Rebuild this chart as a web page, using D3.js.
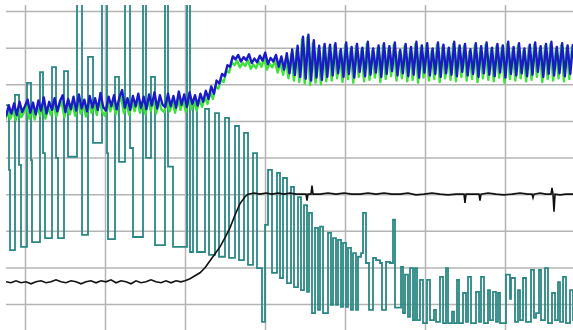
<!DOCTYPE html>
<html><head><meta charset="utf-8">
<script src="https://cdn.jsdelivr.net/npm/d3@7"></script>
<style>html,body{margin:0;padding:0;background:#fff;}svg{display:block;}</style>
</head><body>
<svg id="c" width="573" height="330"></svg>
<script>
// time in µs (800 µs / div), values in divisions
const xTicks = [0, 800, 1600, 2400, 3200, 4000, 4800];
const yTicks = [0, 1, 2, 3, 4, 5, 6, 7, 8];

// blue & green: uniformly sampled channels
const blueT0 = -190, greenT0 = -200, sampleDt = 27;
const blueV = [
5.12,5.42,5.20,5.48,5.16,5.52,5.24,5.40,5.58,5.22,
5.50,5.18,5.56,5.28,5.64,5.20,5.52,5.30,5.62,5.26,
5.54,5.70,5.24,5.60,5.32,5.66,5.28,5.72,5.34,5.58,
5.26,5.68,5.36,5.62,5.30,5.76,5.38,5.28,5.66,5.40,
5.70,5.32,5.64,5.84,5.36,5.62,5.30,5.68,5.40,5.74,
5.36,5.66,5.32,5.72,5.42,5.78,5.34,5.70,5.44,5.38,
5.74,5.40,5.68,5.36,5.80,5.44,5.72,5.38,5.78,5.46,
5.70,5.42,5.74,5.52,5.82,5.60,5.94,5.74,6.10,6.02,
6.28,6.22,6.52,6.48,6.76,6.68,6.80,6.62,6.74,6.66,
6.82,6.58,6.70,6.60,6.78,6.64,6.86,6.55,6.72,6.62,
6.80,6.48,6.76,6.40,6.85,6.30,6.95,6.25,7.05,6.20,
7.30,6.15,7.35,6.10,7.20,6.18,7.05,6.12,7.10,6.20,
7.08,6.24,7.12,6.30,6.96,6.20,7.14,6.28,7.02,6.18,
7.10,6.34,7.00,6.22,7.16,6.26,6.98,6.32,7.06,6.20,
7.12,6.28,7.04,6.36,7.14,6.24,6.94,6.30,7.10,6.22,
7.02,6.26,7.16,6.18,7.06,6.32,7.12,6.24,6.98,6.28,
7.14,6.20,7.08,6.30,7.00,6.26,7.16,6.22,7.06,6.34,
7.10,6.24,6.96,6.28,7.12,6.20,7.04,6.30,7.14,6.26,
7.00,6.22,7.10,6.32,7.06,6.18,7.16,6.28,7.02,6.24,
7.12,6.30,6.98,6.22,7.08,6.26,7.14,6.34,7.04,6.20,
7.10,6.28,7.16,6.24,7.02,6.30,7.12,6.22,7.06,6.28,7.10];
const greenV = [
5.00,5.24,5.06,5.30,5.02,5.36,5.10,5.24,5.40,5.06,
5.34,5.04,5.38,5.14,5.46,5.06,5.36,5.16,5.44,5.12,
5.38,5.52,5.10,5.44,5.18,5.48,5.14,5.54,5.20,5.42,
5.12,5.50,5.22,5.46,5.16,5.58,5.24,5.14,5.50,5.26,
5.54,5.18,5.48,5.66,5.22,5.46,5.16,5.52,5.26,5.58,
5.22,5.50,5.18,5.56,5.28,5.60,5.20,5.54,5.30,5.24,
5.58,5.26,5.52,5.22,5.62,5.30,5.56,5.24,5.60,5.32,
5.54,5.28,5.58,5.38,5.66,5.46,5.78,5.60,5.94,5.88,
6.12,6.06,6.36,6.32,6.60,6.52,6.64,6.46,6.58,6.50,
6.66,6.42,6.54,6.44,6.62,6.48,6.70,6.40,6.56,6.46,
6.64,6.32,6.60,6.26,6.70,6.16,6.82,6.10,6.94,6.06,
7.22,6.02,7.28,5.98,7.12,6.04,6.98,6.00,7.02,6.08,
7.00,6.10,7.06,6.16,6.90,6.06,7.08,6.14,6.96,6.04,
7.04,6.20,6.94,6.08,7.10,6.12,6.92,6.18,7.00,6.06,
7.06,6.14,6.98,6.22,7.08,6.10,6.88,6.16,7.04,6.08,
6.96,6.12,7.10,6.04,7.00,6.18,7.06,6.10,6.92,6.14,
7.08,6.06,7.02,6.16,6.94,6.12,7.10,6.08,7.00,6.20,
7.04,6.10,6.90,6.14,7.06,6.06,6.98,6.16,7.08,6.12,
6.94,6.08,7.04,6.18,7.00,6.04,7.10,6.14,6.96,6.10,
7.06,6.16,6.92,6.08,7.02,6.12,7.08,6.20,6.98,6.06,
7.04,6.14,7.10,6.10,6.96,6.16,7.06,6.08,7.00,6.14,7.04];

// teal: step trace (level held from each time to the next)
const tealT = [-190,-160,-150,-100,-60,-40,20,60,70,150,180,200,270,310,330,390,430,520,570,630,680,770,820,830,900,940,1000,1050,1080,1180,1210,1260,1300,1400,1430,1480,1620,1650,1680,1720,1800,1840,1900,1940,2000,2040,2100,2140,2190,2230,2280,2320,2370,2400,2430,2470,2520,2550,2580,2620,2660,2690,2730,2760,2790,2820,2840,2870,2900,2930,2950,2980,3030,3060,3080,3110,3130,3160,3180,3210,3230,3260,3280,3310,3330,3360,3380,3410,3440,3480,3510,3550,3570,3610,3650,3680,3700,3760,3780,3800,3830,3850,3880,3900,3920,3950,3980,4020,4050,4090,4110,4150,4180,4210,4230,4270,4290,4320,4340,4380,4410,4430,4460,4510,4540,4560,4590,4630,4650,4680,4710,4730,4750,4810,4850,4860,4900,4930,4950,4980,5010,5060,5090,5110,5140,5160,5200,5230,5270,5300,5330,5350,5380,5410,5450,5480,5550];
const tealV = [5.43,3.66,1.47,5.71,3.80,1.56,6.04,3.93,1.69,6.33,4.12,1.80,6.47,3.99,1.80,6.36,4.02,9.0,1.89,6.75,4.40,9.0,4.12,1.77,6.20,3.88,9.0,4.26,1.83,9.0,3.99,6.20,1.61,9.0,3.75,1.56,9.0,1.42,5.49,1.42,5.33,1.34,5.21,1.29,5.08,1.26,4.86,1.20,4.67,1.07,4.12,0.98,-0.49,2.16,3.66,0.85,3.58,0.71,3.44,0.57,3.20,0.46,2.92,0.38,2.70,0.33,2.49,-0.25,2.08,-0.16,2.11,-0.25,1.94,-0.02,1.80,-0.02,1.75,-0.08,1.67,-0.08,1.53,-0.16,1.39,-0.16,1.29,1.39,2.49,1.12,-0.16,1.26,1.20,1.12,-0.16,1.15,1.12,2.30,-0.10,1.01,-0.25,0.80,-0.35,0.98,-0.44,0.98,-0.44,0.66,-0.52,0.66,-0.44,-0.16,-0.49,0.74,-0.52,0.98,-0.52,-0.21,-0.52,0.66,-0.52,0.30,-0.49,0.74,-0.52,0.33,-0.49,0.74,-0.52,0.38,-0.44,0.33,-0.49,0.30,-0.52,0.80,0.14,0.71,-0.49,0.38,-0.44,0.71,-0.49,0.93,-0.38,-0.25,0.93,-0.44,0.98,-0.52,0.30,-0.44,0.60,-0.49,0.74,-0.52,0.38,-0.44,-0.44];

// black
const blackT = [-190,-140,-90,-40,10,60,110,160,210,260,310,360,410,460,510,560,610,660,710,760,810,860,910,960,1010,1060,1110,1160,1210,1260,1310,1360,1410,1460,1510,1560,1600,1650,1700,1750,1800,1850,1900,1950,2000,2050,2100,2150,2200,2230,2290,2350,2410,2470,2530,2590,2650,2710,2770,2810,2820,2830,2860,2870,2880,2950,3030,3110,3190,3270,3350,3430,3510,3590,3670,3750,3830,3910,3990,4070,4150,4230,4310,4390,4400,4410,4470,4540,4550,4560,4630,4710,4790,4870,4950,5030,5070,5080,5090,5150,5210,5260,5270,5280,5290,5300,5350,5410,5480];
const blackV = [0.606,0.579,0.634,0.579,0.606,0.552,0.606,0.634,0.579,0.606,0.661,0.606,0.579,0.634,0.606,0.552,0.606,0.634,0.579,0.634,0.606,0.661,0.579,0.634,0.606,0.552,0.634,0.579,0.606,0.661,0.606,0.579,0.634,0.579,0.634,0.606,0.634,0.688,0.770,0.852,0.989,1.18,1.37,1.56,1.81,2.08,2.43,2.74,2.93,3.00,3.03,3.00,3.03,3.00,3.03,3.00,3.03,3.00,3.00,3.00,2.82,3.00,3.00,3.23,3.00,3.00,3.03,3.00,3.03,3.00,3.00,3.03,3.00,3.03,3.00,3.00,3.03,2.98,3.00,3.03,3.00,2.98,3.00,3.00,2.76,3.00,3.00,3.00,2.82,3.00,3.03,3.00,2.98,3.00,3.03,3.00,3.00,2.90,3.00,3.03,3.00,3.00,3.17,3.00,2.52,3.00,2.98,3.00,3.00];

const W = 573, H = 330;
const plot = {left: 6, top: 5, right: 573, bottom: 330};
const x = d3.scaleLinear().domain([0, 4800]).range([25, 505]);
const y = d3.scaleLinear().domain([0, 8]).range([304, 11]);

const svg = d3.select("#c");
svg.append("defs").append("clipPath").attr("id", "clip")
  .append("rect").attr("x", plot.left).attr("y", plot.top)
  .attr("width", plot.right - plot.left).attr("height", plot.bottom - plot.top);

// grid via axes
const gx = svg.append("g").attr("transform", `translate(0,${plot.bottom})`)
  .call(d3.axisBottom(x).tickValues(xTicks).tickSize(-(plot.bottom - plot.top)).tickFormat(""));
const gy = svg.append("g").attr("transform", `translate(${plot.left},0)`)
  .call(d3.axisLeft(y).tickValues(yTicks).tickSize(-(plot.right - plot.left)).tickFormat(""));
[gx, gy].forEach(g => {
  g.select(".domain").remove();
  g.selectAll(".tick line").attr("stroke", "#b4b4b4").attr("stroke-width", 1.5);
});

const traces = svg.append("g").attr("clip-path", "url(#clip)");

const line = d3.line().x(d => x(d[0])).y(d => y(d[1]));
const stepLine = d3.line().x(d => x(d[0])).y(d => y(d[1])).curve(d3.curveStepAfter);

const tealData = tealT.map((t, i) => [t, tealV[i]]);
const blackData = blackT.map((t, i) => [t, blackV[i]]);
const greenData = greenV.map((v, i) => [greenT0 + i * sampleDt, v]);
const blueData = blueV.map((v, i) => [blueT0 + i * sampleDt, v]);

traces.append("path").datum(tealData).attr("d", stepLine)
  .attr("fill", "none").attr("stroke", "#2a8884").attr("stroke-width", 1.8);
traces.append("path").datum(blackData).attr("d", line)
  .attr("fill", "none").attr("stroke", "#111").attr("stroke-width", 1.6);
traces.append("path").datum(greenData).attr("d", line)
  .attr("fill", "none").attr("stroke", "#3ee03a").attr("stroke-width", 2.4).attr("stroke-linejoin", "round");
traces.append("path").datum(blueData).attr("d", line)
  .attr("fill", "none").attr("stroke", "#1a1ac8").attr("stroke-width", 2.4).attr("stroke-linejoin", "round");
</script>
</body></html>
